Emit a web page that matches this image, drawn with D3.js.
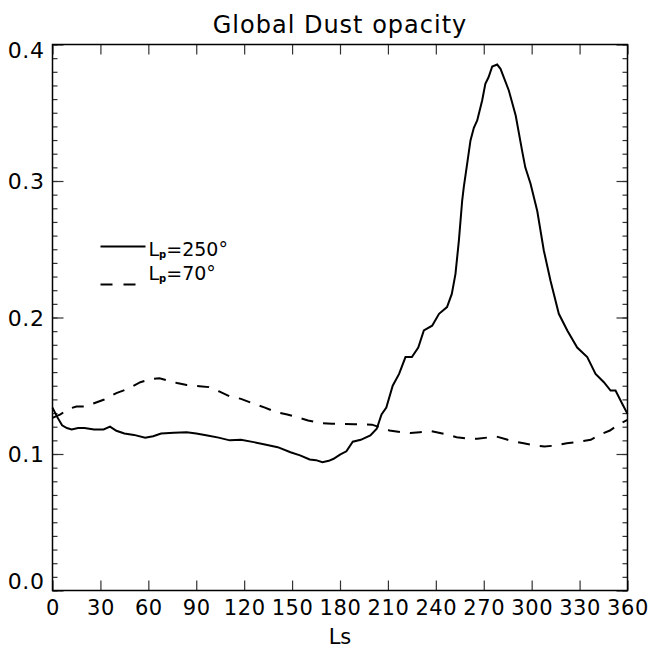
<!DOCTYPE html>
<html>
<head>
<meta charset="utf-8">
<script src="https://cdn.jsdelivr.net/npm/d3@7"></script>
<style>
  body { margin: 0; background: #fff; }
  svg text { font-family: "DejaVu Sans", sans-serif; fill: #000; }
</style>
</head>
<body>
<div id="chart"></div>
<script>
// Ls tick values and opacity tick labels
const xTicks = [0, 30, 60, 90, 120, 150, 180, 210, 240, 270, 300, 330, 360];
const yTicks = [0.0, 0.1, 0.2, 0.3, 0.4];
const yTickLabels = ["0.0", "0.1", "0.2", "0.3", "0.4"];

// Lp = 250 (solid)
const lsSolid = [0, 3, 6, 9, 12, 16, 20, 26, 32, 36, 40, 45, 51, 58, 63, 68, 76, 84, 90, 97,
  104, 111, 118, 126, 133, 141, 149, 155, 161, 165, 169, 173, 176, 180, 184, 188, 193, 199,
  203, 206, 209, 213, 217, 221, 225, 229, 232.5, 237.7, 242, 247, 250, 252.3, 254.4, 256.5,
  257.5, 259.6, 261.7, 263.8, 265.9, 269, 271, 273, 275.3, 278.4, 280.5, 285.7, 290, 294,
  296, 299.3, 303.5, 307.6, 311.8, 317, 322.3, 328.5, 334.8, 340, 345.2, 349.4, 352.5,
  356.7, 360];
const tauSolid = [0.134, 0.127, 0.121, 0.119, 0.118, 0.119, 0.119, 0.118, 0.118, 0.120,
  0.117, 0.115, 0.114, 0.112, 0.113, 0.115, 0.1155, 0.116, 0.115, 0.1136, 0.112, 0.110,
  0.1104, 0.1087, 0.107, 0.105, 0.1013, 0.099, 0.096, 0.0955, 0.094, 0.095, 0.0965, 0.0996,
  0.102, 0.109, 0.1104, 0.1136, 0.1185, 0.129, 0.134, 0.150, 0.1587, 0.171, 0.171, 0.178,
  0.1905, 0.194, 0.2027, 0.2076, 0.2173, 0.232, 0.256, 0.2857, 0.2955, 0.3126, 0.3297,
  0.339, 0.3443, 0.359, 0.3712, 0.376, 0.3839, 0.3853, 0.3822, 0.3663, 0.348, 0.3223,
  0.310, 0.298, 0.278, 0.2491, 0.227, 0.2027, 0.1905, 0.178, 0.171, 0.1587, 0.1526,
  0.1465, 0.1465, 0.1368, 0.1294];

// Lp = 70 (dashed)
const lsDashed = [0, 5, 10, 15, 20, 26, 32, 40, 47, 55, 62, 67, 72, 78, 84, 92, 98, 104,
  111, 118, 126, 133, 140, 147, 153, 160, 168, 175, 182, 189, 195, 200, 205, 211, 218, 224,
  230, 237, 245, 253, 260, 266, 272, 278, 285, 290, 295, 301, 308, 315, 322, 330, 337, 343,
  349, 355, 360];
const tauDashed = [0.1265, 0.129, 0.133, 0.1348, 0.1348, 0.1372, 0.1397, 0.1446, 0.1477,
  0.1526, 0.155, 0.1555, 0.1538, 0.152, 0.1505, 0.1497, 0.149, 0.146, 0.1422, 0.1404,
  0.1368, 0.134, 0.1306, 0.129, 0.127, 0.1245, 0.1226, 0.1222, 0.1221, 0.1218, 0.1216,
  0.1215, 0.1196, 0.1172, 0.116, 0.1153, 0.116, 0.1167, 0.1148, 0.1123, 0.1112, 0.1111,
  0.112, 0.1128, 0.1104, 0.109, 0.1079, 0.1065, 0.1055, 0.1062, 0.1079, 0.109, 0.1104,
  0.1143, 0.1172, 0.1221, 0.125];

const width = 649, height = 650;
const margin = {top: 44.5, right: 21.5, bottom: 59.5, left: 52.5};
const w = width - margin.left - margin.right,
  h = height - margin.top - margin.bottom;

const svg = d3.select("#chart")
  .append("svg")
  .attr("width", width)
  .attr("height", height)
  .append("g")
  .attr("transform", `translate(${margin.left},${margin.top})`);

const x = d3.scaleLinear().domain([0, 360]).range([0, w]);
const y = d3.scaleLinear().domain([0, 0.4]).range([h, 0]);
const yMinor = d3.range(0, 41).map(i => i / 100);

// bottom axis with labels
const xAxis = svg.append("g")
  .attr("transform", `translate(0,${h})`)
  .call(d3.axisBottom(x).tickValues(xTicks).tickSize(-10).tickPadding(10).tickFormat(d3.format("d")));
xAxis.selectAll("text")
  .style("font-size", "21px")
  .style("letter-spacing", "0.6px");

// top axis
svg.append("g")
  .call(d3.axisTop(x).tickValues(xTicks).tickSize(-10).tickFormat(""));

// left axis: minor then major
svg.append("g")
  .call(d3.axisLeft(y).tickValues(yMinor).tickSize(-5).tickFormat(""));
const yAxis = svg.append("g")
  .call(d3.axisLeft(y).tickValues(yTicks).tickSize(-11).tickPadding(8)
    .tickFormat((d, i) => yTickLabels[i]));
yAxis.selectAll("text")
  .style("font-size", "22px")
  .style("letter-spacing", "0.6px")
  .attr("dy", (d, i) => i === 0 ? "-0.1em" : (i === yTicks.length - 1 ? "0.6em" : "0.36em"));

// right axis
svg.append("g")
  .attr("transform", `translate(${w},0)`)
  .call(d3.axisRight(y).tickValues(yMinor).tickSize(-5).tickFormat(""));
svg.append("g")
  .attr("transform", `translate(${w},0)`)
  .call(d3.axisRight(y).tickValues(yTicks).tickSize(-11).tickFormat(""));

svg.selectAll(".domain").remove();
svg.selectAll(".tick line").attr("stroke", "#333").attr("stroke-width", 1.2);

// frame
svg.append("rect")
  .attr("width", w)
  .attr("height", h)
  .attr("fill", "none")
  .attr("stroke", "#000")
  .attr("stroke-width", 1.5);

// curves
const line = d3.line()
  .x(d => x(d[0]))
  .y(d => y(d[1]));

svg.append("path")
  .datum(d3.zip(lsDashed, tauDashed))
  .attr("d", line)
  .attr("fill", "none")
  .attr("stroke", "#000")
  .attr("stroke-width", 2)
  .attr("stroke-dasharray", "12,10");

svg.append("path")
  .datum(d3.zip(lsSolid, tauSolid))
  .attr("d", line)
  .attr("fill", "none")
  .attr("stroke", "#000")
  .attr("stroke-width", 2);

// title and axis label
svg.append("text")
  .attr("x", w / 2)
  .attr("y", -12)
  .attr("text-anchor", "middle")
  .style("font-size", "24px")
  .style("letter-spacing", "1px")
  .text("Global Dust opacity");

svg.append("text")
  .attr("x", w / 2)
  .attr("y", h + 53)
  .attr("text-anchor", "middle")
  .style("font-size", "21px")
  .text("Ls");

// legend
const legendItems = [
  {label: "250°", dash: null, lineY: 202, textY: 211},
  {label: "70°", dash: "12,11", lineY: 240, textY: 235}
];
legendItems.forEach(item => {
  svg.append("line")
    .attr("x1", 48).attr("x2", 93)
    .attr("y1", item.lineY).attr("y2", item.lineY)
    .attr("stroke", "#000")
    .attr("stroke-width", 2)
    .attr("stroke-dasharray", item.dash);
  const t = svg.append("text")
    .attr("x", 96)
    .attr("y", item.textY)
    .style("font-size", "19px");
  t.append("tspan").text("L");
  t.append("tspan").attr("dy", 2).style("font-size", "10px").style("font-weight", "bold").text("p");
  t.append("tspan").attr("dy", -2).text("=" + item.label);
});
</script>
</body>
</html>
